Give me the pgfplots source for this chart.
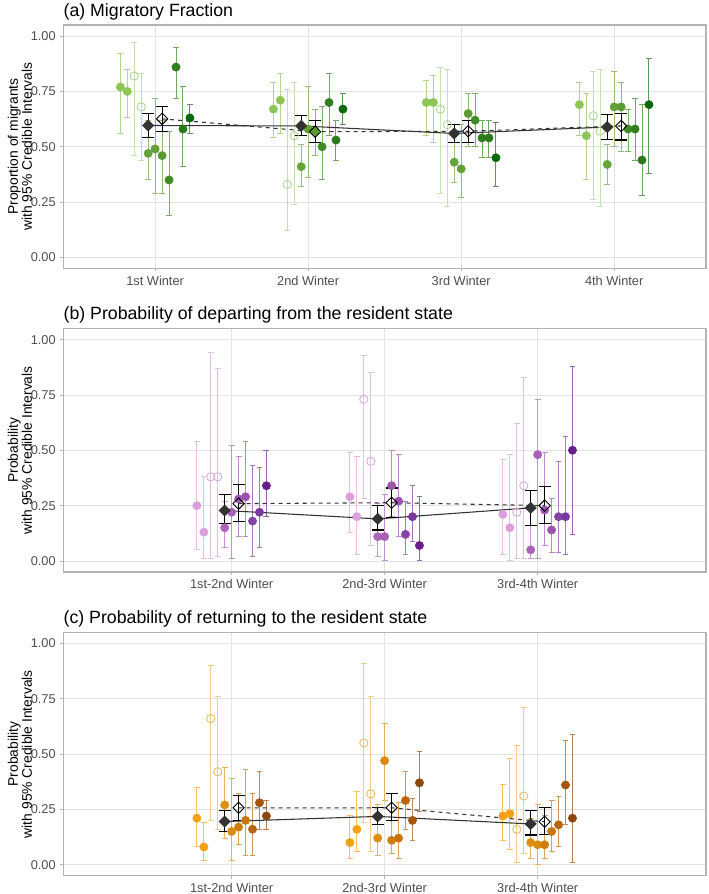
\documentclass[border=0pt]{standalone}
\usepackage{pgfplots}
\pgfplotsset{compat=1.18}
\usepackage{pgfplotstable}
\usepackage{fontspec}
\setmainfont{Liberation Sans}

\definecolor{gridc}{HTML}{E3E3E3}
\definecolor{bordc}{HTML}{B3B3B3}
\definecolor{tickc}{HTML}{4D4D4D}
\definecolor{sumc}{HTML}{333333}
% greens
\definecolor{a1}{HTML}{8DC655}\definecolor{a2}{HTML}{8DC655}
\definecolor{a3}{HTML}{A8D48A}\definecolor{a4}{HTML}{A8D48A}
\definecolor{a5}{HTML}{66A338}\definecolor{a6}{HTML}{62A034}
\definecolor{a7}{HTML}{5A9B30}\definecolor{a8}{HTML}{3F8B24}
\definecolor{a9}{HTML}{2F801C}\definecolor{a10}{HTML}{2A7A1A}
\definecolor{a11}{HTML}{0A680A}
% purples
\definecolor{b1}{HTML}{DBA0DC}\definecolor{b2}{HTML}{DBA0DC}
\definecolor{b3}{HTML}{D4A6D8}\definecolor{b4}{HTML}{D4A6D8}
\definecolor{b5}{HTML}{AC64BB}\definecolor{b6}{HTML}{A85FB8}
\definecolor{b7}{HTML}{9C55B0}\definecolor{b8}{HTML}{9A52AE}
\definecolor{b9}{HTML}{8643A6}\definecolor{b10}{HTML}{7A37A0}
\definecolor{b11}{HTML}{691C8C}
% oranges
\definecolor{c1}{HTML}{F4A212}\definecolor{c2}{HTML}{F4A212}
\definecolor{c3}{HTML}{E6B55C}\definecolor{c4}{HTML}{E6B55C}
\definecolor{c5}{HTML}{DE8E10}\definecolor{c6}{HTML}{DA8A0E}
\definecolor{c7}{HTML}{CF7D0A}\definecolor{c8}{HTML}{C8740A}
\definecolor{c9}{HTML}{B8640A}\definecolor{c10}{HTML}{A4540C}
\definecolor{c11}{HTML}{8E460A}

% columns: c, then y/l/h for series 1..11, then filled summary (m), open summary (o)
\pgfplotstableread{
c y1 l1 h1 y2 l2 h2 y3 l3 h3 y4 l4 h4 y5 l5 h5 y6 l6 h6 y7 l7 h7 y8 l8 h8 y9 l9 h9 y10 l10 h10 y11 l11 h11 ym lm hm yo lo ho
1 0.77 0.56 0.92 0.75 0.63 0.85 0.82 0.46 0.97 0.68 0.44 0.83 0.47 0.35 0.62 0.49 0.29 0.72 0.46 0.29 0.62 0.35 0.19 0.57 0.86 0.72 0.95 0.58 0.41 0.77 0.63 0.56 0.69 0.596 0.54 0.65 0.626 0.57 0.68
2 0.67 0.54 0.79 0.71 0.56 0.83 0.33 0.12 0.76 0.55 0.24 0.79 0.41 0.32 0.51 0.58 0.36 0.77 0.57 0.46 0.67 0.50 0.35 0.68 0.70 0.55 0.83 0.53 0.44 0.62 0.67 0.60 0.74 0.594 0.55 0.64 0.568 0.52 0.62
3 0.70 0.55 0.80 0.70 0.52 0.82 0.67 0.29 0.86 0.60 0.23 0.85 0.43 0.34 0.56 0.40 0.27 0.60 0.65 0.50 0.74 0.62 0.50 0.74 0.54 0.45 0.62 0.54 0.45 0.62 0.45 0.32 0.61 0.560 0.52 0.60 0.570 0.52 0.62
4 0.69 0.55 0.79 0.55 0.35 0.74 0.64 0.26 0.84 0.57 0.23 0.85 0.42 0.33 0.51 0.68 0.50 0.84 0.68 0.48 0.79 0.58 0.48 0.67 0.58 0.44 0.72 0.44 0.28 0.69 0.69 0.38 0.90 0.589 0.534 0.646 0.594 0.53 0.65
}\ta
\pgfplotstableread{
c y1 l1 h1 y2 l2 h2 y3 l3 h3 y4 l4 h4 y5 l5 h5 y6 l6 h6 y7 l7 h7 y8 l8 h8 y9 l9 h9 y10 l10 h10 y11 l11 h11 ym lm hm yo lo ho
1.5 0.25 0.05 0.54 0.13 0.01 0.38 0.38 0.01 0.94 0.38 0.02 0.87 0.15 0.06 0.27 0.22 0.01 0.52 0.28 0.11 0.47 0.29 0.11 0.54 0.18 0.02 0.43 0.22 0.06 0.42 0.34 0.20 0.50 0.228 0.17 0.30 0.259 0.177 0.345
2.5 0.29 0.13 0.49 0.20 0.03 0.47 0.73 0.28 0.93 0.45 0.07 0.85 0.11 0.02 0.26 0.11 0.00 0.30 0.34 0.20 0.50 0.27 0.11 0.48 0.12 0.03 0.27 0.20 0.09 0.34 0.07 0.00 0.29 0.19 0.14 0.25 0.263 0.195 0.33
3.5 0.21 0.03 0.46 0.15 0.00 0.48 0.22 0.01 0.62 0.34 0.01 0.83 0.05 0.01 0.24 0.48 0.01 0.73 0.23 0.07 0.49 0.14 0.04 0.28 0.20 0.04 0.45 0.20 0.03 0.56 0.50 0.12 0.88 0.24 0.16 0.32 0.25 0.168 0.337
}\tb
\pgfplotstableread{
c y1 l1 h1 y2 l2 h2 y3 l3 h3 y4 l4 h4 y5 l5 h5 y6 l6 h6 y7 l7 h7 y8 l8 h8 y9 l9 h9 y10 l10 h10 y11 l11 h11 ym lm hm yo lo ho
1.5 0.21 0.08 0.35 0.08 0.02 0.19 0.66 0.20 0.90 0.42 0.16 0.76 0.27 0.12 0.44 0.15 0.02 0.39 0.17 0.09 0.32 0.20 0.04 0.43 0.16 0.04 0.32 0.28 0.16 0.42 0.22 0.16 0.29 0.195 0.15 0.243 0.257 0.198 0.313
2.5 0.10 0.03 0.22 0.16 0.06 0.33 0.55 0.19 0.91 0.32 0.06 0.76 0.12 0.04 0.27 0.47 0.29 0.64 0.11 0.05 0.24 0.12 0.03 0.28 0.29 0.16 0.42 0.20 0.11 0.30 0.37 0.24 0.51 0.218 0.18 0.26 0.257 0.20 0.32
3.5 0.22 0.11 0.36 0.23 0.07 0.48 0.16 0.01 0.54 0.31 0.05 0.71 0.10 0.03 0.21 0.09 0.00 0.27 0.09 0.03 0.22 0.15 0.06 0.29 0.18 0.08 0.31 0.36 0.18 0.56 0.21 0.01 0.59 0.184 0.134 0.243 0.194 0.136 0.258
}\tc

\pgfplotsset{
  pt/.style={only marks, mark=*, mark size=3.1pt,
    mark options={draw=#1, fill=#1, line width=0.4pt},
    error bars/y dir=both, error bars/y explicit,
    error bars/error bar style={color=#1!68!white, line width=0.75pt},
    error bars/error mark options={color=#1!68!white, rotate=90, mark size=2.2pt, line width=0.75pt}},
  op/.style={pt=#1, mark=o, mark options={draw=#1, line width=0.6pt}},
  panel/.style={scale only axis, width=482pt, height=182.6pt,
    xmin=0.4, xmax=4.6, ymin=-0.05, ymax=1.05,
    ytick={0,0.25,0.5,0.75,1}, yticklabels={0.00,0.25,0.50,0.75,1.00},
    xmajorgrids, ymajorgrids, major grid style={color=gridc, line width=0.6pt},
    axis line style={color=bordc, line width=0.8pt},
    tick align=outside, major tick length=2.2pt,
    tick style={color=bordc, line width=0.6pt},
    xtick pos=left, ytick pos=left,
    ticklabel style={font=\fontsize{9.6}{11}\selectfont, color=tickc},
    clip=false, anchor=north west},
}
\newcommand\ser[4]{\addplot[#4] table[x expr=\thisrow{c}#3, y=y#2,
  y error plus expr=\thisrow{h#2}-\thisrow{y#2},
  y error minus expr=\thisrow{y#2}-\thisrow{l#2}]{#1};}
\newcommand\allser[2]{%
  \ser{#1}{1}{-0.2273}{pt=#21}
  \ser{#1}{2}{-0.1818}{pt=#22}
  \ser{#1}{3}{-0.1364}{op=#23}
  \ser{#1}{4}{-0.0909}{op=#24}
  \ser{#1}{5}{-0.0455}{pt=#25}
  \ser{#1}{6}{+0}{pt=#26}
  \ser{#1}{7}{+0.0455}{pt=#27}
  \ser{#1}{8}{+0.0909}{pt=#28}
  \ser{#1}{9}{+0.1364}{pt=#29}
  \ser{#1}{10}{+0.1818}{pt=#210}
  \ser{#1}{11}{+0.2273}{pt=#211}
  \addplot[color=sumc, line width=0.8pt, mark=square*, mark size=2.8pt,
    mark options={rotate=45, fill=sumc, draw=sumc, solid},
    error bars/y dir=both, error bars/y explicit,
    error bars/error bar style={black, solid, line width=0.9pt},
    error bars/error mark options={black, solid, rotate=90, mark size=4.5pt, line width=0.9pt}]
    table[x expr=\thisrow{c}-0.0455, y=ym,
      y error plus expr=\thisrow{hm}-\thisrow{ym},
      y error minus expr=\thisrow{ym}-\thisrow{lm}]{#1};
  \addplot[color=sumc, line width=0.8pt, dashed, mark=square, mark size=3pt,
    mark options={rotate=45, draw=black, solid, line width=0.7pt},
    error bars/y dir=both, error bars/y explicit,
    error bars/error bar style={black, solid, line width=0.9pt},
    error bars/error mark options={black, solid, rotate=90, mark size=4.5pt, line width=0.9pt}]
    table[x expr=\thisrow{c}+0.0455, y=yo,
      y error plus expr=\thisrow{ho}-\thisrow{yo},
      y error minus expr=\thisrow{yo}-\thisrow{lo}]{#1};
}

\begin{document}
\begin{tikzpicture}
\path[use as bounding box] (0,0) rectangle (531.75pt,-670.5pt);

\begin{axis}[panel, at={(47.5pt,-18.75pt)},
  xtick={1,2,3,4}, xticklabels={1st Winter,2nd Winter,3rd Winter,4th Winter}]
\allser{\ta}{a}
\end{axis}

\begin{axis}[panel, at={(47.5pt,-246.4pt)},
  xtick={1.5,2.5,3.5}, xticklabels={1st-2nd Winter,2nd-3rd Winter,3rd-4th Winter}]
\allser{\tb}{b}
\end{axis}

\begin{axis}[panel, at={(47.5pt,-474.2pt)},
  xtick={1.5,2.5,3.5}, xticklabels={1st-2nd Winter,2nd-3rd Winter,3rd-4th Winter}]
\allser{\tc}{c}
\end{axis}

\begin{scope}[font=\fontsize{13.3}{16}\selectfont]
\node[anchor=west, inner sep=0pt] at (47.5pt,-9pt) {(a) Migratory Fraction};
\node[anchor=west, inner sep=0pt] at (47.5pt,-236.3pt) {(b) Probability of departing from the resident state};
\node[anchor=west, inner sep=0pt] at (47.5pt,-464.3pt) {(c) Probability of returning to the resident state};
\end{scope}
\begin{scope}[font=\fontsize{10.4}{10.5}\selectfont]
\node[rotate=90, align=center, inner sep=0pt] at (15pt,-109.9pt) {Proportion of migrants\\with 95\% Credible Intervals};
\node[rotate=90, align=center, inner sep=0pt] at (15pt,-337.7pt) {Probability\\with 95\% Credible Intervals};
\node[rotate=90, align=center, inner sep=0pt] at (15pt,-565.6pt) {Probability\\with 95\% Credible Intervals};
\end{scope}
\end{tikzpicture}
\end{document}
